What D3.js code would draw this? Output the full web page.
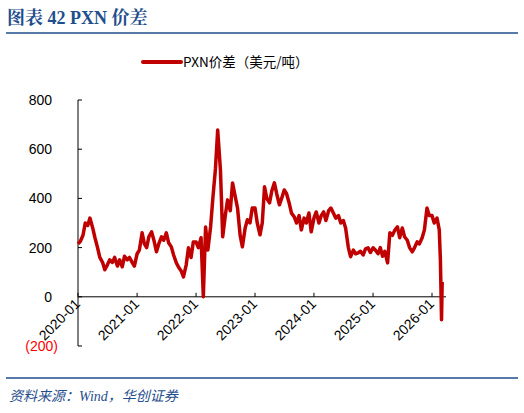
<!DOCTYPE html><html><head><meta charset="utf-8"><script src="https://cdn.jsdelivr.net/npm/d3@7"></script>
<style>body{margin:0;background:#fff}</style></head><body><svg id="c" width="524" height="413"></svg><script>
const dates=[
"2020-01-01","2020-01-15","2020-02-01","2020-02-15","2020-03-01","2020-03-15","2020-04-01","2020-04-15","2020-05-01","2020-05-15","2020-06-01","2020-06-15","2020-07-01","2020-07-15","2020-08-01","2020-08-15","2020-09-01","2020-09-15","2020-10-01","2020-10-15","2020-11-01","2020-11-15","2020-12-01","2020-12-15",
"2021-01-01","2021-01-15","2021-02-01","2021-02-15","2021-03-01","2021-03-15","2021-04-01","2021-04-15","2021-05-01","2021-05-15","2021-06-01","2021-06-15","2021-07-01","2021-07-15","2021-08-01","2021-08-15","2021-09-01","2021-09-15","2021-10-01","2021-10-15","2021-11-01","2021-11-15","2021-12-01","2021-12-15",
"2022-01-01","2022-01-15","2022-02-01","2022-02-15","2022-03-01","2022-03-15","2022-04-01","2022-04-15","2022-05-01","2022-05-15","2022-06-01","2022-06-15","2022-07-01","2022-07-15","2022-08-01","2022-08-15","2022-09-01","2022-09-15","2022-10-01","2022-10-15","2022-11-01","2022-11-15","2022-12-01","2022-12-15",
"2023-01-01","2023-01-15","2023-02-01","2023-02-15","2023-03-01","2023-03-15","2023-04-01","2023-04-15","2023-05-01","2023-05-15","2023-06-01","2023-06-15","2023-07-01","2023-07-15","2023-08-01","2023-08-15","2023-09-01","2023-09-15","2023-10-01","2023-10-15","2023-11-01","2023-11-15","2023-12-01","2023-12-15",
"2024-01-01","2024-01-15","2024-02-01","2024-02-15","2024-03-01","2024-03-15","2024-04-01","2024-04-15","2024-05-01","2024-05-15","2024-06-01","2024-06-15","2024-07-01","2024-07-15","2024-08-01","2024-08-15","2024-09-01","2024-09-15","2024-10-01","2024-10-15","2024-11-01","2024-11-15","2024-12-01","2024-12-15",
"2025-01-01","2025-01-15","2025-02-01","2025-02-15","2025-03-01","2025-03-15","2025-04-01","2025-04-15","2025-05-01","2025-05-15","2025-06-01","2025-06-15","2025-07-01","2025-07-15","2025-08-01","2025-08-15","2025-09-01","2025-09-15","2025-10-01","2025-10-15","2025-11-01","2025-11-15","2025-12-01","2025-12-15",
"2026-01-01","2026-01-15","2026-02-01","2026-02-15","2026-02-22","2026-03-01","2026-03-05"];
const values=[
215,225,250,300,290,320,280,240,200,160,140,110,130,150,140,160,125,150,122,165,150,160,140,125,
175,190,260,215,200,245,264,230,183,215,244,230,260,220,203,170,138,120,105,81,130,199,160,223,
223,200,240,0,284,190,284,400,520,678,516,244,330,394,350,463,406,360,250,203,280,313,300,361,
361,300,252,300,447,400,382,430,463,420,374,400,434,420,380,340,325,300,330,272,320,300,341,264,
320,345,300,330,345,310,350,361,340,320,330,300,310,280,200,163,190,175,179,185,170,195,199,180,
199,190,175,200,165,185,138,260,250,270,284,240,280,244,230,200,183,200,223,215,240,272,361,330,
330,300,320,272,150,-93,60];
const yTicks=[800,600,400,200,0,-200];
const yLabels=["800","600","400","200","0","(200)"];
const xTicks=["2020-01","2021-01","2022-01","2023-01","2024-01","2025-01","2026-01"];
const title="图表  42 PXN 价差", legendLabel="PXN价差（美元/吨）", source="资料来源：Wind，华创证券";

const svg=d3.select("#c"), p=d3.timeParse("%Y-%m-%d"), pm=d3.timeParse("%Y-%m");
const x=d3.scaleTime().domain([p("2020-01-01"),p("2026-01-01")]).range([78,432]);
const y=d3.scaleLinear().domain([-200,800]).range([346,100]);
const blue="#1F4E8C", red="#C00000";
svg.append("text").attr("x",7).attr("y",24).attr("fill",blue).attr("font-family","Liberation Serif, Noto Serif CJK SC, Noto Sans CJK SC").attr("font-weight","bold").attr("font-size",18).text(title);
svg.append("line").attr("x1",6).attr("x2",518).attr("y1",33).attr("y2",33).attr("stroke",blue).attr("stroke-width",1.5);
svg.append("line").attr("x1",143).attr("x2",181).attr("y1",62).attr("y2",62).attr("stroke",red).attr("stroke-width",4).attr("stroke-linecap","round");
svg.append("text").attr("x",183).attr("y",67).attr("font-family","Noto Sans CJK SC").attr("font-size",13.5).attr("fill","#000").text(legendLabel);
svg.append("line").attr("x1",78).attr("x2",78).attr("y1",y(800)).attr("y2",y(-200)).attr("stroke","#000");
yTicks.forEach((t,i)=>{
 svg.append("line").attr("x1",78).attr("x2",82).attr("y1",y(t)).attr("y2",y(t)).attr("stroke","#000");
 svg.append("text").attr("x",t<0?58:52).attr("y",y(t)+5).attr("text-anchor","end").attr("font-family","Liberation Sans").attr("font-size",14).attr("fill",t<0?"#f00":"#000").text(yLabels[i]);
});
svg.append("line").attr("x1",78).attr("x2",446).attr("y1",y(0)).attr("y2",y(0)).attr("stroke","#000");
xTicks.forEach(s=>{const xx=x(pm(s));
 svg.append("line").attr("x1",xx).attr("x2",xx).attr("y1",y(0)).attr("y2",y(0)-4).attr("stroke","#000");
 svg.append("text").attr("transform",`translate(${xx+3},${y(0)+8}) rotate(-45)`).attr("text-anchor","end").attr("font-family","Liberation Sans").attr("font-size",14).attr("fill","#000").text(s);
});
const data=dates.map((d,i)=>[p(d),values[i]]);
svg.append("path").datum(data).attr("fill","none").attr("stroke",red).attr("stroke-width",3.5).attr("stroke-linejoin","round")
 .attr("d",d3.line().x(d=>x(d[0])).y(d=>y(d[1])));
svg.append("line").attr("x1",6).attr("x2",518).attr("y1",378).attr("y2",378).attr("stroke",blue).attr("stroke-width",1.5);
svg.append("text").attr("x",9).attr("y",401).attr("fill",blue).attr("font-family","Liberation Serif, Noto Sans CJK SC").attr("font-style","italic").attr("font-size",14).text(source);
</script></body></html>
